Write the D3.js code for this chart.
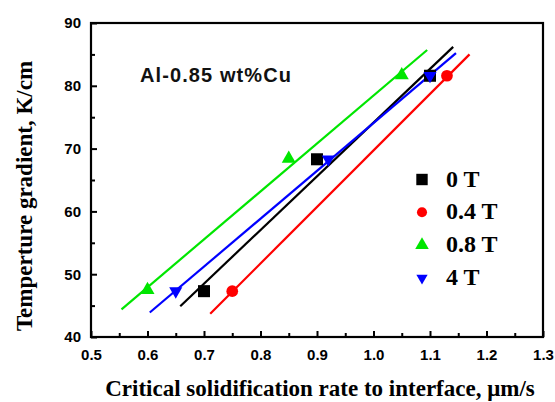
<!DOCTYPE html>
<html>
<head>
<meta charset="utf-8">
<script src="https://cdn.jsdelivr.net/npm/d3@7"></script>
<style>
  html, body { margin: 0; padding: 0; background: #fff; }
  svg { display: block; }
</style>
</head>
<body>
<div id="chart"></div>
<script>
// series labels, colours and marker shapes
const seriesNames = ['0 T', '0.4 T', '0.8 T', '4 T'];
const seriesColors = ['#000000', '#ff0000', '#00e600', '#0000ff'];
const seriesShapes = ['square', 'circle', 'triangleUp', 'triangleDown'];

// measured points (rate µm/s, gradient K/cm)
const rate0T = [0.70, 0.90, 1.10];
const grad0T = [47.3, 68.3, 81.6];
const rate04T = [0.75, 1.13];
const grad04T = [47.3, 81.6];
const rate08T = [0.60, 0.85, 1.05];
const grad08T = [47.5, 68.4, 81.7];
const rate4T = [0.65, 0.92, 1.10];
const grad4T = [47.3, 68.3, 81.6];

// fitted line endpoints [x0, y0, x1, y1]
const fit0T = [0.658, 44.9, 1.141, 86.2];
const fit04T = [0.711, 43.7, 1.170, 85.0];
const fit08T = [0.554, 44.4, 1.095, 85.7];
const fit4T = [0.604, 43.9, 1.146, 85.2];

const xTicks = [0.5, 0.6, 0.7, 0.8, 0.9, 1.0, 1.1, 1.2, 1.3];
const yTicks = [40, 50, 60, 70, 80, 90];

const series = [
  { rates: rate0T, grads: grad0T, fit: fit0T },
  { rates: rate04T, grads: grad04T, fit: fit04T },
  { rates: rate08T, grads: grad08T, fit: fit08T },
  { rates: rate4T, grads: grad4T, fit: fit4T }
];

const width = 555;
const height = 402;
const plot = { left: 91, right: 543, top: 23, bottom: 337 };

const svg = d3.select('#chart')
  .append('svg')
  .attr('width', width)
  .attr('height', height);

const x = d3.scaleLinear().domain([0.5, 1.3]).range([plot.left, plot.right]);
const y = d3.scaleLinear().domain([40, 90]).range([plot.bottom, plot.top]);

const symbolFor = (shape, size) => {
  if (shape === 'square') return d3.symbol(d3.symbolSquare, size)();
  if (shape === 'circle') return d3.symbol(d3.symbolCircle, size)();
  return d3.symbol(d3.symbolTriangle, size)();
};

// fit lines
series.forEach((s, i) => {
  svg.append('line')
    .attr('x1', x(s.fit[0]))
    .attr('y1', y(s.fit[1]))
    .attr('x2', x(s.fit[2]))
    .attr('y2', y(s.fit[3]))
    .attr('stroke', seriesColors[i])
    .attr('stroke-width', 2.2);
});

// markers
const markerSizes = { square: 145, circle: 108, triangleUp: 85, triangleDown: 75 };
series.forEach((s, i) => {
  const shape = seriesShapes[i];
  svg.append('g')
    .selectAll('path')
    .data(s.rates.map((r, j) => [r, s.grads[j]]))
    .join('path')
    .attr('d', symbolFor(shape, markerSizes[shape]))
    .attr('transform', d => {
      const rot = shape === 'triangleDown' ? ' rotate(180)' : '';
      return `translate(${x(d[0])},${y(d[1])})${rot}`;
    })
    .attr('fill', seriesColors[i]);
});

// axes with inward ticks
const xAxis = d3.axisBottom(x)
  .tickValues(xTicks)
  .tickSize(-6)
  .tickPadding(12)
  .tickFormat(d3.format('.1f'));
const xMinor = d3.axisBottom(x)
  .tickValues(d3.range(0.55, 1.3, 0.1))
  .tickSize(-4)
  .tickFormat('');
const yAxis = d3.axisLeft(y)
  .tickValues(yTicks)
  .tickSize(-6)
  .tickPadding(10);
const yMinor = d3.axisLeft(y)
  .tickValues(d3.range(45, 90, 10))
  .tickSize(-4)
  .tickFormat('');

const styleAxis = g => {
  g.select('.domain').remove();
  g.selectAll('line').attr('stroke', '#000').attr('stroke-width', 2);
  g.selectAll('text')
    .attr('fill', '#000')
    .style('font-family', '"Liberation Sans", Arial, sans-serif')
    .style('font-weight', 'bold')
    .style('font-size', '15px');
};

svg.append('g').attr('transform', `translate(0,${plot.bottom})`).call(xAxis).call(styleAxis);
svg.append('g').attr('transform', `translate(0,${plot.bottom})`).call(xMinor).call(styleAxis);
svg.append('g').attr('transform', `translate(${plot.left},0)`).call(yAxis).call(styleAxis);
svg.append('g').attr('transform', `translate(${plot.left},0)`).call(yMinor).call(styleAxis);

// frame
svg.append('rect')
  .attr('x', plot.left)
  .attr('y', plot.top)
  .attr('width', plot.right - plot.left)
  .attr('height', plot.bottom - plot.top)
  .attr('fill', 'none')
  .attr('stroke', '#000')
  .attr('stroke-width', 2.2);

// annotation
svg.append('text')
  .attr('x', 140)
  .attr('y', 82)
  .text('Al-0.85 wt%Cu')
  .style('font-family', '"Liberation Sans", Arial, sans-serif')
  .style('font-size', '20px')
  .style('letter-spacing', '1.1px')
  .style('font-weight', 'bold')
  .attr('fill', '#111');

// legend
const legendMarkerSizes = { square: 130, circle: 80, triangleUp: 80, triangleDown: 55 };
const legend = svg.append('g')
  .selectAll('g')
  .data(seriesNames)
  .join('g')
  .attr('transform', (d, i) => `translate(422,${179.5 + i * 32.8})`);

legend.append('path')
  .attr('d', (d, i) => symbolFor(seriesShapes[i], legendMarkerSizes[seriesShapes[i]]))
  .attr('transform', (d, i) => seriesShapes[i] === 'triangleDown' ? 'rotate(180)' : null)
  .attr('fill', (d, i) => seriesColors[i]);

legend.append('text')
  .attr('x', 24)
  .attr('y', 7)
  .text(d => d)
  .style('font-family', '"Liberation Serif", "Times New Roman", serif')
  .style('font-weight', 'bold')
  .style('font-size', '24px')
  .attr('fill', '#000');

// axis titles
svg.append('text')
  .attr('x', 320)
  .attr('y', 396)
  .attr('text-anchor', 'middle')
  .text('Critical solidification rate to interface, \u03bcm/s')
  .style('font-family', '"Liberation Serif", "Times New Roman", serif')
  .style('font-weight', 'bold')
  .style('font-size', '23px');

svg.append('text')
  .attr('transform', 'translate(32,196) rotate(-90)')
  .attr('text-anchor', 'middle')
  .text('Temperture gradient, K/cm')
  .style('font-family', '"Liberation Serif", "Times New Roman", serif')
  .style('font-weight', 'bold')
  .style('font-size', '23px');
</script>
</body>
</html>
